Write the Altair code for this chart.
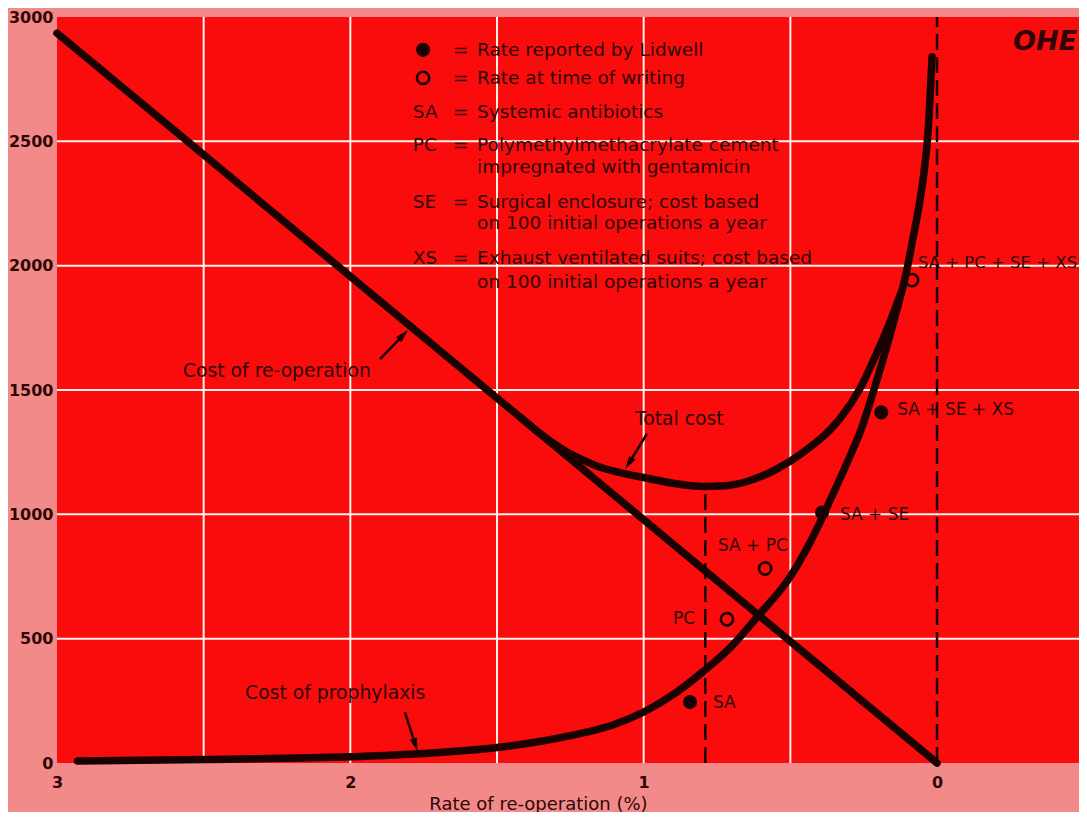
import altair as alt
import pandas as pd

# ---------------- data ----------------
reop_rate = [3.0, 0.0]
reop_cost = [2935, 0]

proph_rate = [2.93, 2.5, 2.0, 1.75, 1.5, 1.25, 1.1, 1.0, 0.9, 0.8, 0.7, 0.614,
              0.5, 0.4, 0.365, 0.3, 0.256, 0.218, 0.17, 0.133, 0.11, 0.1, 0.082,
              0.06, 0.045, 0.031, 0.017]
proph_cost = [8, 14, 25, 38, 62, 110, 155, 205, 275, 365, 470, 586,
              750, 965, 1055, 1225, 1350, 1490, 1680, 1840, 1945, 2000, 2110,
              2250, 2370, 2530, 2840]

total_rate = [1.42, 1.35, 1.26, 1.2, 1.15, 1.05, 1.0, 0.9, 0.8, 0.72, 0.64,
              0.55, 0.45, 0.365, 0.331, 0.263, 0.205, 0.16, 0.12]
total_cost = [1390, 1322, 1250, 1215, 1190, 1160, 1148, 1125, 1112, 1115, 1135,
              1180, 1255, 1340, 1385, 1505, 1650, 1775, 1900]

lidwell_rate = [0.842, 0.392, 0.190]
lidwell_cost = [245, 1007, 1410]

writing_rate = [0.716, 0.586, 0.085]
writing_cost = [578, 782, 1942]

label_right_text = ["SA", "SA + PC", "SA + SE", "SA + SE + XS", "SA + PC + SE + XS"]
label_right_rate = [0.764, 0.747, 0.331, 0.136, 0.065]
label_right_cost = [241, 874, 999, 1420, 2009]
label_left_text = ["PC"]
label_left_rate = [0.825]
label_left_cost = [578]

dash_rate = [0.0, 0.79]
dash_top = [3000, 1110]

grid_rate = [2.5, 2.0, 1.5, 1.0, 0.5]
grid_cost = [500, 1000, 1500, 2000, 2500]

x_tick_values = [0, 1, 2, 3]
y_tick_values = [0, 500, 1000, 1500, 2000, 2500, 3000]

legend_abbr = ["SA", "PC", "SE", "XS"]
legend_abbr_cost = [2619, 2487, 2258, 2029]
legend_eq_cost = [2868, 2755, 2619, 2487, 2258, 2029]
legend_desc = ["Rate reported by Lidwell", "Rate at time of writing", "Systemic antibiotics",
               "Polymethylmethacrylate cement", "impregnated with gentamicin",
               "Surgical enclosure; cost based", "on 100 initial operations a year",
               "Exhaust ventilated suits; cost based", "on 100 initial operations a year"]
legend_desc_cost = [2868, 2755, 2619, 2487, 2398, 2258, 2170, 2029, 1933]
legend_abbr_rate = 1.787
legend_eq_rate = 1.650
legend_desc_rate = 1.568
legend_sym_rate = 1.752

annot_text = ["Cost of re-operation", "Total cost", "Cost of prophylaxis"]
annot_rate = [2.571, 1.030, 2.359]
annot_cost = [1576, 1384, 281]

arrow_rate = [1.899, 0.989, 1.814]
arrow_cost = [1624, 1324, 205]
arrow_head_rate = [1.819, 1.051, 1.778]
arrow_head_cost = [1722, 1204, 72]
arrow_angle = [44, 212, 162]

# ---------------- styling ----------------
RED = "#fb0c0c"
PINK = "#f38a8a"
INK = "#1a0202"
TXT = "#2e0606"
FONT = "DejaVu Sans"

xs = alt.Scale(domain=[-0.484, 3], reverse=True, nice=False, zero=False)
ys = alt.Scale(domain=[0, 3000], nice=False)
xaxis = alt.Axis(values=x_tick_values, grid=False, ticks=False, domain=False, format="d",
                 labelFont=FONT, labelFontSize=16, labelFontWeight="bold", labelColor=TXT,
                 labelPadding=11, labelFlush=False,
                 title="Rate of re-operation (%)", titleFont=FONT, titleFontSize=18,
                 titleFontWeight="normal", titleColor=TXT, titleX=481, titleY=46,
                 titleBaseline="alphabetic")
yaxis = alt.Axis(values=y_tick_values, grid=False, ticks=False, domain=False, format="d",
                 labelFont=FONT, labelFontSize=16, labelFontWeight="bold", labelColor=TXT,
                 labelPadding=4, labelFlush=False, title=None)


def X(f):
    return alt.X(f"{f}:Q", scale=xs, axis=xaxis)


def Y(f):
    return alt.Y(f"{f}:Q", scale=ys, axis=yaxis)


grid_v = alt.Chart(pd.DataFrame({"g": grid_rate})).mark_rule(
    color="#fff2ea", strokeWidth=2).encode(x=X("g"))
grid_h = alt.Chart(pd.DataFrame({"g": grid_cost})).mark_rule(
    color="#fff2ea", strokeWidth=2).encode(y=Y("g"))

dashes = alt.Chart(pd.DataFrame({"r": dash_rate, "b": [0, 0], "t": dash_top})).mark_rule(
    color=INK, strokeWidth=2.5, strokeDash=[16, 7]).encode(
    x=X("r"), y=Y("b"), y2=alt.Y2("t"))


def curve(rates, costs):
    df = pd.DataFrame({"r": rates, "c": costs, "o": list(range(len(rates)))})
    return alt.Chart(df).mark_line(color=INK, strokeWidth=7.5, strokeCap="round",
                                   interpolate="monotone").encode(
        x=X("r"), y=Y("c"), order="o:Q")


reop = curve(reop_rate, reop_cost)
proph = curve(proph_rate, proph_cost)
total = curve(total_rate, total_cost)

filled = alt.Chart(pd.DataFrame({"r": lidwell_rate + [legend_sym_rate],
                                 "c": lidwell_cost + [legend_desc_cost[0]]})).mark_point(
    shape="circle", filled=True, color=INK, size=200, opacity=1).encode(x=X("r"), y=Y("c"))
opened = alt.Chart(pd.DataFrame({"r": writing_rate + [legend_sym_rate],
                                 "c": writing_cost + [legend_desc_cost[1]]})).mark_point(
    shape="circle", filled=False, color=INK, size=150, strokeWidth=2.6, opacity=1).encode(
    x=X("r"), y=Y("c"))


def texts(rates, costs, labels, size, align="left", **kw):
    df = pd.DataFrame({"r": rates, "c": costs, "t": labels})
    return alt.Chart(df).mark_text(align=align, baseline="middle", font=FONT,
                                   fontSize=size, color=TXT, **kw).encode(
        x=X("r"), y=Y("c"), text="t:N")


pt_right = texts(label_right_rate[:4], label_right_cost[:4], label_right_text[:4], 17)
pt_far = texts(label_right_rate[4:], label_right_cost[4:], label_right_text[4:], 16.5)
pt_left = texts(label_left_rate, label_left_cost, label_left_text, 17, align="right")

lg_abbr = texts([legend_abbr_rate] * len(legend_abbr), legend_abbr_cost, legend_abbr, 18.5)
lg_eq = texts([legend_eq_rate] * len(legend_eq_cost), legend_eq_cost,
              ["="] * len(legend_eq_cost), 18.5)
lg_desc = texts([legend_desc_rate] * len(legend_desc), legend_desc_cost, legend_desc, 18.5)

annots = texts(annot_rate, annot_cost, annot_text, 18.8)

arrows = alt.Chart(pd.DataFrame({"r": arrow_rate, "c": arrow_cost,
                                 "r2": arrow_head_rate, "c2": arrow_head_cost})).mark_rule(
    color=INK, strokeWidth=2.5).encode(x=X("r"), y=Y("c"), x2=alt.X2("r2"), y2=alt.Y2("c2"))
heads = alt.Chart(pd.DataFrame({"r": arrow_head_rate, "c": arrow_head_cost,
                                "a": arrow_angle})).mark_point(
    shape="M0,-1L0.55,1L-0.55,1Z", filled=True, color=INK, size=180, opacity=1).encode(
    x=X("r"), y=Y("c"), angle=alt.Angle("a:Q", scale=None))

logo = texts([-0.368], [2900], ["OHE"], 27, align="center", fontStyle="italic",
             fontWeight="bold")

chart = alt.layer(
    grid_v, grid_h, dashes, reop, proph, total, filled, opened,
    pt_right, pt_far, pt_left, lg_abbr, lg_eq, lg_desc, annots, arrows, heads, logo
).properties(
    width=1022, height=746,
    autosize=alt.AutoSizeParams(type="none"),
    padding={"left": 49, "top": 9, "right": 0, "bottom": 49},
    background=PINK,
).configure_view(fill=RED, stroke=None)

chart.save("out.html", embed_options={"renderer": "svg", "actions": False})
